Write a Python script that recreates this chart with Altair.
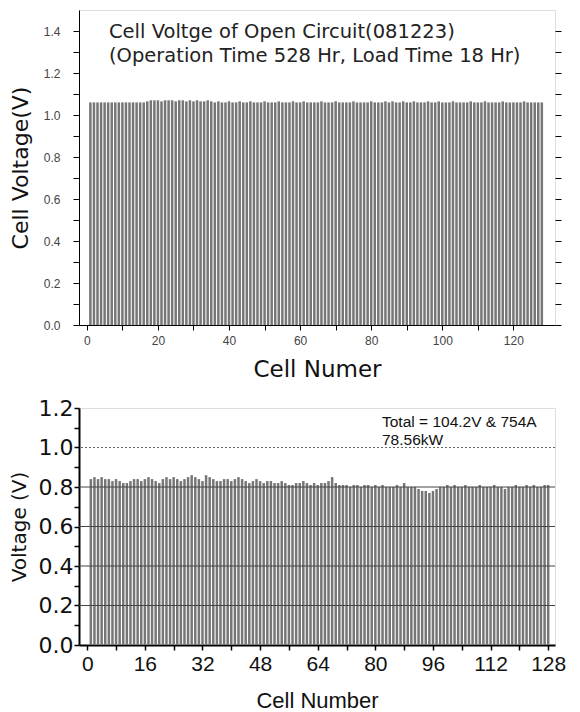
import altair as alt
import pandas as pd

# ---------------- data ----------------
cells = list(range(1, 129))

ocv_volts = [
    1.06, 1.06, 1.06, 1.06, 1.06, 1.06, 1.06, 1.06, 1.06, 1.06,
    1.06, 1.06, 1.06, 1.06, 1.06, 1.06, 1.065, 1.07, 1.07, 1.07,
    1.065, 1.07, 1.07, 1.07, 1.065, 1.07, 1.07, 1.065, 1.07, 1.065,
    1.07, 1.065, 1.065, 1.07, 1.065, 1.06, 1.065, 1.06, 1.06, 1.065,
    1.06, 1.06, 1.065, 1.06, 1.06, 1.065, 1.06, 1.06, 1.06, 1.065,
    1.06, 1.06, 1.06, 1.065, 1.06, 1.06, 1.06, 1.065, 1.06, 1.06,
    1.065, 1.06, 1.06, 1.06, 1.06, 1.065, 1.06, 1.06, 1.06, 1.065,
    1.06, 1.06, 1.06, 1.06, 1.065, 1.06, 1.06, 1.06, 1.06, 1.065,
    1.06, 1.06, 1.06, 1.065, 1.06, 1.065, 1.06, 1.06, 1.065, 1.06,
    1.06, 1.065, 1.06, 1.06, 1.06, 1.065, 1.06, 1.06, 1.065, 1.06,
    1.06, 1.06, 1.065, 1.06, 1.06, 1.06, 1.06, 1.065, 1.06, 1.06,
    1.06, 1.065, 1.06, 1.06, 1.06, 1.06, 1.065, 1.06, 1.06, 1.06,
    1.06, 1.06, 1.065, 1.06, 1.06, 1.06, 1.06, 1.06,
]

load_volts = [
    0.84, 0.85, 0.84, 0.85, 0.84, 0.84, 0.83, 0.84, 0.83, 0.82,
    0.82, 0.83, 0.84, 0.84, 0.83, 0.84, 0.85, 0.84, 0.83, 0.82,
    0.84, 0.85, 0.84, 0.85, 0.84, 0.83, 0.84, 0.85, 0.86, 0.85,
    0.84, 0.83, 0.86, 0.85, 0.84, 0.83, 0.83, 0.84, 0.84, 0.83,
    0.84, 0.85, 0.84, 0.83, 0.82, 0.83, 0.84, 0.83, 0.82, 0.83,
    0.83, 0.82, 0.82, 0.83, 0.82, 0.81, 0.81, 0.82, 0.82, 0.83,
    0.82, 0.81, 0.82, 0.81, 0.82, 0.82, 0.83, 0.85, 0.82, 0.81,
    0.81, 0.81, 0.80, 0.81, 0.81, 0.80, 0.81, 0.81, 0.80, 0.81,
    0.80, 0.81, 0.80, 0.80, 0.80, 0.81, 0.80, 0.82, 0.80, 0.80,
    0.80, 0.79, 0.78, 0.78, 0.77, 0.78, 0.79, 0.80, 0.80, 0.81,
    0.80, 0.81, 0.80, 0.80, 0.81, 0.80, 0.80, 0.80, 0.81, 0.80,
    0.80, 0.80, 0.81, 0.80, 0.80, 0.79, 0.80, 0.80, 0.81, 0.80,
    0.80, 0.81, 0.80, 0.81, 0.80, 0.80, 0.81, 0.81,
]

top_note = ["Cell Voltge of Open Circuit(081223)",
            "(Operation Time 528 Hr, Load Time 18 Hr)"]
bottom_note = ["Total = 104.2V & 754A", "78.56kW"]

top_x_ticks = list(range(0, 130, 10))
top_y_ticks = [round(i * 0.1, 1) for i in range(0, 15)]
bot_x_ticks = list(range(0, 129, 8))
bot_y_ticks = [round(i * 0.1, 1) for i in range(0, 13)]
grid_solid = [0.2, 0.4, 0.6, 0.8]
grid_dotted = [1.0]

top_df = pd.DataFrame({"cell": cells, "v": ocv_volts})
bot_df = pd.DataFrame({"cell": cells, "v": load_volts})

ARIAL = "Liberation Sans"
WIDE = "DejaVu Sans"
BAR_COLOR = "#767676"

# ---------------- top panel ----------------
tx_scale = alt.Scale(domain=[-0.8, 130.3], nice=False, zero=False)
ty_scale = alt.Scale(domain=[0, 1.5], nice=False)

top_x_axis = alt.Axis(
    values=top_x_ticks,
    labelExpr="datum.value % 20 == 0 ? datum.label : ''",
    title="Cell Numer", titleFont=WIDE, titleFontSize=23,
    titleFontWeight="normal", titleColor="#111", titlePadding=12,
    labelFont=ARIAL, labelFontSize=12, labelColor="#444",
    labelPadding=5, tickSize=5, tickColor="black", domainColor="black",
    grid=False, labelFlush=False, labelOverlap=False)

top_bars = alt.Chart(top_df).mark_bar(size=2.5, color=BAR_COLOR).encode(
    x=alt.X("cell:Q", scale=tx_scale, axis=top_x_axis),
    y=alt.Y("v:Q", scale=ty_scale, axis=alt.Axis(
        values=top_y_ticks,
        labelExpr="round(datum.value * 10) % 2 == 0 ? format(datum.value, '.1f') : ''",
        title="Cell Voltage(V)", titleFont=WIDE, titleFontSize=22,
        titleFontWeight="normal", titleColor="#111", titlePadding=11,
        labelFont=ARIAL, labelFontSize=12, labelColor="#444",
        labelPadding=13, tickSize=6, tickColor="black", domainColor="black",
        grid=False, labelFlush=False, labelOverlap=False)),
)

top_right = alt.Chart(top_df).mark_bar(opacity=0).encode(
    x=alt.X("cell:Q", scale=tx_scale, axis=top_x_axis),
    y=alt.Y("v:Q", scale=ty_scale, axis=alt.Axis(
        orient="right", values=top_y_ticks, labels=False, title=None,
        tickSize=6, tickColor="black", domain=False, grid=False)),
)

top_text = alt.Chart(pd.DataFrame({"t": [top_note]})).mark_text(
    align="left", baseline="alphabetic", font=WIDE, fontSize=19.5,
    color="#222", lineHeight=23.5,
).encode(x=alt.value(30), y=alt.value(28), text="t")

top = alt.layer(top_bars, top_right, top_text).resolve_axis(
    y="independent").properties(width=476, height=315)

# ---------------- bottom panel ----------------
bx_scale = alt.Scale(domain=[-0.9, 128.5], nice=False, zero=False)
by_scale = alt.Scale(domain=[0, 1.2], nice=False)

bot_x_axis = alt.Axis(
    values=bot_x_ticks,
    labelExpr="datum.value % 16 == 0 ? datum.label : ''",
    title="Cell Number", titleFont=ARIAL, titleFontSize=22,
    titleFontWeight="normal", titleColor="#111", titlePadding=16,
    labelFont=ARIAL, labelFontSize=21, labelColor="#111",
    labelPadding=3, tickSize=5, tickWidth=1.5, tickColor="black",
    domainColor="black", domainWidth=2, grid=False, labelFlush=False,
    labelOverlap=False)

bot_y_axis = alt.Axis(
    values=bot_y_ticks,
    labelExpr="round(datum.value * 10) % 2 == 0 ? format(datum.value, '.1f') : ''",
    title="Voltage (V)", titleFont=WIDE, titleFontSize=20,
    titleFontWeight="normal", titleColor="#111", titlePadding=9,
    labelFont=WIDE, labelFontSize=22, labelColor="#111",
    labelPadding=1, tickSize=5, tickWidth=1.5, tickColor="black",
    domainColor="black", domainWidth=2, grid=False, labelFlush=False,
    labelOverlap=False)

bot_bars = alt.Chart(bot_df).mark_bar(size=2.5, color=BAR_COLOR).encode(
    x=alt.X("cell:Q", scale=bx_scale, axis=bot_x_axis),
    y=alt.Y("v:Q", scale=by_scale, axis=bot_y_axis),
)

grid1 = alt.Chart(pd.DataFrame({"g": grid_solid})).mark_rule(
    color="#444", strokeWidth=1).encode(
    y=alt.Y("g:Q", scale=by_scale, axis=bot_y_axis))
grid2 = alt.Chart(pd.DataFrame({"g": grid_dotted})).mark_rule(
    color="#666", strokeWidth=1, strokeDash=[2, 2]).encode(
    y=alt.Y("g:Q", scale=by_scale, axis=bot_y_axis))

bot_text = alt.Chart(pd.DataFrame({"t": [bottom_note]})).mark_text(
    align="left", baseline="alphabetic", font=ARIAL, fontSize=15.5,
    color="#111", lineHeight=18,
).encode(x=alt.value(303), y=alt.value(19), text="t")

bottom = alt.layer(bot_bars, grid1, grid2, bot_text).properties(
    width=476, height=237)

chart = alt.vconcat(top, bottom, spacing=14).properties(
    padding={"left": 0, "top": 1, "right": 0, "bottom": 0}
).configure_view(stroke="black", strokeWidth=1.6).configure(
    background="white")

chart.save("out.html", embed_options={"renderer": "svg", "actions": False})
